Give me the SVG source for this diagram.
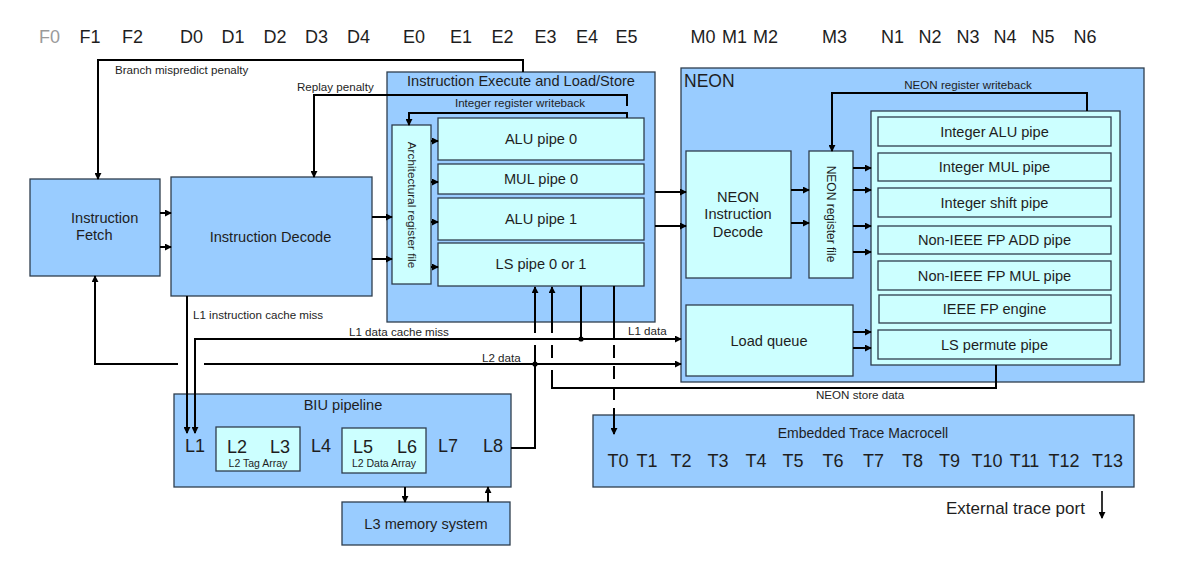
<svg xmlns="http://www.w3.org/2000/svg" width="1203" height="572" viewBox="0 0 1203 572">
<defs>
<style>
text{font-family:"Liberation Sans",Arial,sans-serif;fill:#1e1e1e}
.stage{font-size:18px;text-anchor:middle}
.f0{fill:#9a9a9a}
.t{font-size:14.6px;text-anchor:middle}
.s{font-size:11.6px}
.v{font-size:12px;text-anchor:middle}
.b{font-size:18px;text-anchor:middle}
.tiny{font-size:10.5px}
.box{fill:#99CCFF;stroke:#2e3e4e;stroke-width:1.3}
.in{fill:#CCFFFF;stroke:#2e3e4e;stroke-width:1.3}
.c{fill:none;stroke:#000;stroke-width:2}
.a{fill:none;stroke:#000;stroke-width:2;marker-end:url(#ah)}
.dash{stroke-dasharray:13 8}
.dot{fill:#000}
</style>
<marker id="ah" viewBox="0 0 8 8" refX="7" refY="4" markerWidth="7" markerHeight="7" markerUnits="userSpaceOnUse" orient="auto"><path d="M0,0 L8,4 L0,8 z" fill="#000"/></marker>
</defs>
<rect width="1203" height="572" fill="#fff"/>

<g id="stages">
<text class="stage f0" x="49.5" y="43">F0</text>
<text class="stage" x="90" y="43">F1</text>
<text class="stage" x="132.5" y="43">F2</text>
<text class="stage" x="191.5" y="43">D0</text>
<text class="stage" x="233" y="43">D1</text>
<text class="stage" x="275" y="43">D2</text>
<text class="stage" x="316.5" y="43">D3</text>
<text class="stage" x="358.5" y="43">D4</text>
<text class="stage" x="414" y="43">E0</text>
<text class="stage" x="461" y="43">E1</text>
<text class="stage" x="502.5" y="43">E2</text>
<text class="stage" x="545.5" y="43">E3</text>
<text class="stage" x="587" y="43">E4</text>
<text class="stage" x="626.5" y="43">E5</text>
<text class="stage" x="703" y="43">M0</text>
<text class="stage" x="734.5" y="43">M1</text>
<text class="stage" x="765.5" y="43">M2</text>
<text class="stage" x="834.5" y="43">M3</text>
<text class="stage" x="892.5" y="43">N1</text>
<text class="stage" x="930" y="43">N2</text>
<text class="stage" x="968" y="43">N3</text>
<text class="stage" x="1005" y="43">N4</text>
<text class="stage" x="1043" y="43">N5</text>
<text class="stage" x="1085" y="43">N6</text>
</g>

<g id="fetch">
<rect class="box" x="30" y="179" width="130" height="97"/>
<text x="71" y="223" style="font-size:14.6px">Instruction</text>
<text x="76" y="240" style="font-size:14.6px">Fetch</text>
</g>

<g id="decode">
<rect class="box" x="171" y="177" width="201" height="119"/>
<text class="t" x="270.5" y="242">Instruction Decode</text>
</g>

<g id="execute">
<rect class="box" x="387" y="72" width="268" height="250"/>
<text class="t" x="521" y="86">Instruction Execute and Load/Store</text>
<text class="s" x="520" y="107" text-anchor="middle">Integer register writeback</text>
</g>
<g id="arch-regfile">
<rect class="in" x="392" y="125" width="39" height="159"/>
<text class="v" transform="translate(407.5,205) rotate(90)" style="font-size:11.8px">Architectural register file</text>
</g>
<g id="alu0"><rect class="in" x="438" y="118" width="206" height="42"/><text class="t" x="541" y="144">ALU pipe 0</text></g>
<g id="mul0"><rect class="in" x="438" y="164" width="206" height="30"/><text class="t" x="541" y="184">MUL pipe 0</text></g>
<g id="alu1"><rect class="in" x="438" y="198" width="206" height="42"/><text class="t" x="541" y="224">ALU pipe 1</text></g>
<g id="ls"><rect class="in" x="438" y="243" width="206" height="43"/><text class="t" x="541" y="269">LS pipe 0 or 1</text></g>

<g id="neon">
<rect class="box" x="681" y="68" width="463" height="314"/>
<text x="684" y="87" style="font-size:17.5px">NEON</text>
<text class="s" x="968" y="89" text-anchor="middle">NEON register writeback</text>
</g>
<g id="neon-decode">
<rect class="in" x="686" y="151" width="105" height="127"/>
<text class="t" x="738" y="202">NEON</text>
<text class="t" x="738" y="219">Instruction</text>
<text class="t" x="738" y="237">Decode</text>
</g>
<g id="neon-regfile">
<rect class="in" x="809" y="151" width="44" height="127"/>
<text class="v" transform="translate(826.5,214) rotate(90)">NEON register file</text>
</g>
<g id="load-queue">
<rect class="in" x="686" y="305" width="167" height="71"/>
<text class="t" x="769" y="346">Load queue</text>
</g>
<g id="neon-pipes">
<rect class="in" x="871" y="111" width="249" height="254"/>
<rect class="in" x="878" y="117" width="233" height="29"/><text class="t" x="994.5" y="136.5">Integer ALU pipe</text>
<rect class="in" x="878" y="153" width="233" height="28"/><text class="t" x="994.5" y="172">Integer MUL pipe</text>
<rect class="in" x="878" y="188" width="233" height="29"/><text class="t" x="994.5" y="207.5">Integer shift pipe</text>
<rect class="in" x="878" y="226" width="233" height="28"/><text class="t" x="994.5" y="245">Non-IEEE FP ADD pipe</text>
<rect class="in" x="878" y="261" width="233" height="29"/><text class="t" x="994.5" y="280.5">Non-IEEE FP MUL pipe</text>
<rect class="in" x="879" y="295" width="232" height="28"/><text class="t" x="994.5" y="314">IEEE FP engine</text>
<rect class="in" x="878" y="330" width="233" height="29"/><text class="t" x="994.5" y="349.5">LS permute pipe</text>
</g>

<g id="biu">
<rect class="box" x="174" y="394" width="337" height="93"/>
<text class="t" x="343" y="410">BIU pipeline</text>
<rect class="in" x="216" y="427" width="84" height="44"/>
<rect class="in" x="342" y="428" width="84" height="45"/>
<text class="b" x="195" y="452">L1</text>
<text class="b" x="237" y="453">L2</text>
<text class="b" x="280" y="453">L3</text>
<text class="b" x="321" y="452">L4</text>
<text class="b" x="363" y="453">L5</text>
<text class="b" x="407" y="453">L6</text>
<text class="b" x="448" y="452">L7</text>
<text class="b" x="493" y="452">L8</text>
<text class="tiny" x="258" y="467" text-anchor="middle">L2 Tag Array</text>
<text class="tiny" x="384" y="467" text-anchor="middle">L2 Data Array</text>
</g>

<g id="l3mem">
<rect class="box" x="342" y="502" width="168" height="43"/>
<text class="t" x="426" y="529">L3 memory system</text>
</g>

<g id="etm">
<rect class="box" x="593" y="415" width="541" height="72"/>
<text class="t" x="863" y="438" style="font-size:14px">Embedded Trace Macrocell</text>
<text class="b" x="618" y="467">T0</text>
<text class="b" x="647" y="467">T1</text>
<text class="b" x="681" y="467">T2</text>
<text class="b" x="718" y="467">T3</text>
<text class="b" x="756" y="467">T4</text>
<text class="b" x="793" y="467">T5</text>
<text class="b" x="833" y="467">T6</text>
<text class="b" x="873.5" y="467">T7</text>
<text class="b" x="912.5" y="467">T8</text>
<text class="b" x="949.5" y="467">T9</text>
<text class="b" x="987" y="467">T10</text>
<text class="b" x="1024.5" y="467">T11</text>
<text class="b" x="1064" y="467">T12</text>
<text class="b" x="1107.5" y="467">T13</text>
</g>

<g id="trace-port">
<text x="946" y="514" style="font-size:17px">External trace port</text>
</g>

<g id="connectors">
<!-- branch mispredict -->
<path class="a" d="M523,72 V60 H98 V179"/>
<text class="s" x="115" y="74">Branch mispredict penalty</text>
<!-- replay -->
<path class="a" d="M627,106 V95 H314 V177"/>
<text class="s" x="297" y="91">Replay penalty</text>
<!-- integer writeback -->
<path class="a" d="M627,118 V113 H409 V125"/>
<!-- fetch to decode -->
<path class="a" d="M160,213 H171"/>
<path class="a" d="M160,247 H171"/>
<!-- decode to execute -->
<path class="a" d="M372,217 H392"/>
<path class="a" d="M372,259 H392"/>
<!-- arch regfile to pipes -->
<path class="a" d="M431,141 H438"/>
<path class="a" d="M431,182 H438"/>
<path class="a" d="M431,222 H438"/>
<path class="a" d="M431,267 H438"/>
<!-- execute to NEON decode -->
<path class="a" d="M655,192 H686"/>
<path class="a" d="M655,226 H686"/>
<!-- NEON decode to regfile -->
<path class="a" d="M791,190 H809"/>
<path class="a" d="M791,223 H809"/>
<!-- regfile to pipes -->
<path class="a" d="M853,168 H871"/>
<path class="a" d="M853,190 H871"/>
<path class="a" d="M853,226 H871"/>
<path class="a" d="M853,252 H871"/>
<!-- load queue to pipes -->
<path class="a" d="M853,332 H871"/>
<path class="a" d="M853,348 H871"/>
<!-- NEON writeback -->
<path class="a" d="M1087,111 V93 H832 V151"/>
<!-- L1 instruction cache miss -->
<path class="a" d="M187,296 V433"/>
<text class="s" x="193" y="319">L1 instruction cache miss</text>
<!-- L1 data cache miss / L1 data -->
<path class="a" d="M195,433 V339 H681" style="marker-end:none"/>
<path class="a" d="M195,345 V433"/>
<path class="a" d="M581,339 H681"/>
<path class="c" d="M581,286 V339"/>
<circle class="dot" cx="581" cy="339" r="2.6"/>
<text class="s" x="349" y="336">L1 data cache miss</text>
<text class="s" x="628" y="335">L1 data</text>
<!-- L2 data -->
<path class="a" d="M178,364 H95 V276"/>
<path class="a" d="M204,364 H681"/>
<circle class="dot" cx="535" cy="364" r="2.6"/>
<text class="s" x="482" y="362">L2 data</text>
<!-- L8 to LS pipe -->
<path class="c" d="M511,448 H535 V345"/>
<path class="a" d="M535,333 V287"/>
<!-- NEON store data -->
<path class="c" d="M996,365 V388 H552 V370"/>
<path class="c" d="M552,358 V345"/>
<path class="a" d="M552,333 V287"/>
<text class="s" x="816" y="399">NEON store data</text>
<!-- trace -->
<path class="c" d="M614,286 V339"/>
<path class="c dash" d="M614,345 V420"/>
<path class="a" d="M614,420 V434"/>
<!-- BIU / L3 -->
<path class="a" d="M405,487 V502"/>
<path class="a" d="M488,502 V487"/>
<!-- external trace port -->
<path class="a" d="M1102,491 V518" style="stroke-width:1.6"/>
</g>
</svg>
